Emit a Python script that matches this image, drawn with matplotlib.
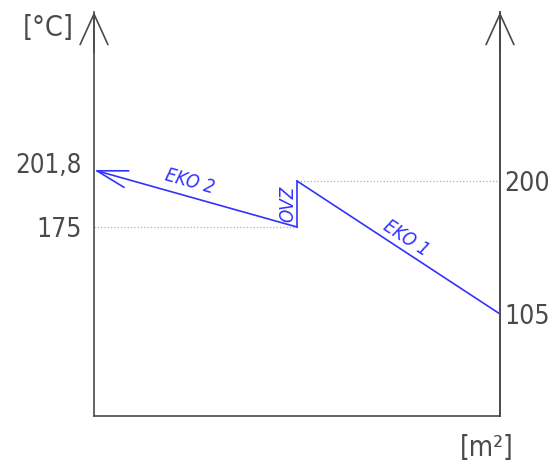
import math
import matplotlib
matplotlib.use("Agg")
import matplotlib.pyplot as plt
import matplotlib.transforms as mtransforms
from matplotlib.patches import ConnectionPatch

# temperature profile through the two economisers (schematic, own scale per side)
x_pos = [0.0, 0.5, 1.0]
eko2_temps = [201.8, 175]      # left scale
eko1_temps = [200, 105]        # right scale
left_ticks = [175, 201.8]
left_labels = ["175", "201,8"]
right_ticks = [105, 200]
right_labels = ["105", "200"]

blue = "#3232ff"
grey = "#4a4a4a"
plt.rcParams['font.family'] = ['DejaVu Sans']

fig = plt.figure(figsize=(5.52, 4.66), dpi=100)
ax = fig.add_axes([94 / 552, 1 - 416 / 466, 406 / 552, 404 / 466])
ax.set_xlim(0, 1)
ax.set_ylim(86.14, 276.09)
ax2 = ax.twinx()
ax2.set_ylim(32.14, 320.71)

for a in (ax, ax2):
    a.spines['top'].set_visible(False)
    for s in ('left', 'right', 'bottom'):
        a.spines[s].set_color(grey)
        a.spines[s].set_linewidth(1.2)
    a.set_xticks([])
ax2.spines['left'].set_visible(False)
ax2.spines['bottom'].set_visible(False)

tick_font = dict(fontsize=19, color=grey, fontstretch='condensed')
ax.set_yticks(left_ticks, labels=left_labels, **tick_font)
ax.tick_params(axis='y', length=0, pad=8.5)
ax2.set_yticks(right_ticks, labels=right_labels, **tick_font)
ax2.tick_params(axis='y', length=0, pad=3)
# outlet label: a bit smaller, lifted above its arrow
top_lab = ax.get_yticklabels()[1]
top_lab.set_fontsize(18.5)
top_lab.set_transform(top_lab.get_transform() +
                      mtransforms.ScaledTranslation(0, 5 / 72, fig.dpi_scale_trans))

# guide lines
ax.plot([x_pos[0], x_pos[1]], [eko2_temps[1]] * 2, ls=':', color='#b0b0b0', lw=0.9)
ax2.plot([x_pos[1], x_pos[2]], [eko1_temps[0]] * 2, ls=':', color='#b0b0b0', lw=0.9)

# EKO 2 with arrow pointing to the outlet
ax.annotate('', xy=(x_pos[0], eko2_temps[0]), xytext=(x_pos[1], eko2_temps[1]),
            arrowprops=dict(arrowstyle='->,head_length=2.2,head_width=0.62',
                            color=blue, lw=1.2, shrinkA=0, shrinkB=0))
# EKO 1
ax2.plot([x_pos[1], x_pos[2]], eko1_temps, color=blue, lw=1.2)
# OVZ jump between the two scales
con = ConnectionPatch(xyA=(x_pos[1], eko2_temps[1]), coordsA=ax.transData,
                      xyB=(x_pos[1], eko1_temps[0]), coordsB=ax2.transData,
                      color=blue, lw=1.2)
fig.add_artist(con)


def seg_angle(a, p, q):
    p1 = a.transData.transform(p)
    p2 = a.transData.transform(q)
    return math.degrees(math.atan2(p2[1] - p1[1], p2[0] - p1[0]))


ang2 = seg_angle(ax, (x_pos[0], eko2_temps[0]), (x_pos[1], eko2_temps[1]))
ang1 = seg_angle(ax2, (x_pos[1], eko1_temps[0]), (x_pos[2], eko1_temps[1]))

label_font = dict(color=blue, fontsize=13.5, style='italic', fontstretch='condensed',
                  ha='center', va='center', textcoords='offset points')
ax.annotate('EKO 2', xy=(0.25, sum(eko2_temps) / 2), xytext=(-4, 12),
            rotation=ang2, **label_font)
ax2.annotate('EKO 1', xy=(0.75, sum(eko1_temps) / 2), xytext=(5.6, 6.8),
             rotation=ang1, **label_font)
ax2.annotate('OVZ', xy=(x_pos[1], eko1_temps[0]), xytext=(-6.8, -16.5),
             rotation=90, **label_font)

# axis arrows
for xa in (0, 1):
    ax.annotate('', xy=(xa, 1), xytext=(xa, 0.9), xycoords='axes fraction',
                arrowprops=dict(arrowstyle='->,head_length=2.2,head_width=1.0',
                                color=grey, lw=1.2, shrinkA=0, shrinkB=0))

fig.text(48 / 552, 1 - 28 / 466, '[°C]', ha='center', va='center',
         fontsize=20.5, color=grey, fontstretch='condensed')
fig.text(487 / 552, 1 - 448 / 466, '[m²]', ha='center', va='center',
         fontsize=20, color=grey, fontstretch='condensed')

fig.savefig('out.png', dpi=100)
